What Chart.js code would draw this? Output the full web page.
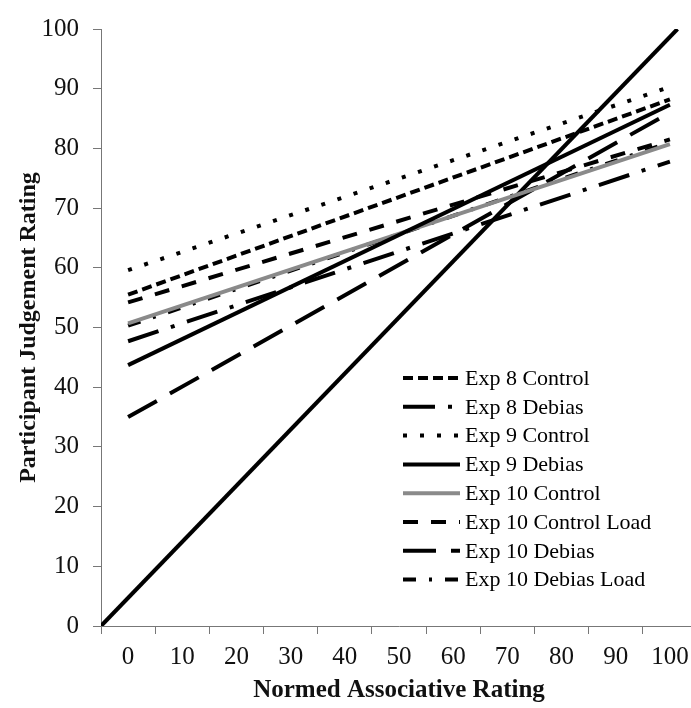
<!DOCTYPE html>
<html>
<head>
<meta charset="utf-8">
<title>Participant Judgement Rating vs Normed Associative Rating</title>
<script src="https://cdn.jsdelivr.net/npm/chart.js@4.4.1/dist/chart.umd.min.js"></script>
<style>
  html, body { margin: 0; padding: 0; background: #fff; overflow: hidden; }
  #wrap { position: relative; width: 700px; height: 708px; }
</style>
</head>
<body>
<div id="wrap"><canvas id="plot"></canvas></div>
<script>
const seriesNames = ['Exp 8 Control', 'Exp 8 Debias', 'Exp 9 Control', 'Exp 9 Debias',
    'Exp 10 Control', 'Exp 10 Control Load', 'Exp 10 Debias', 'Exp 10 Debias Load'];
const fitX = [0, 100];
const valuesAt0 = [55.5, 47.7, 59.6, 43.7, 50.7, 54.2, 35.0, 50.3];
const valuesAt100 = [88.2, 77.8, 90.3, 87.3, 80.7, 81.5, 86.0, 81.0];

// identity reference line
const diagonalX = [-5, 101.4];
const diagonalY = [0, 100];

const xTickValues = [0, 10, 20, 30, 40, 50, 60, 70, 80, 90, 100];
const yTickValues = [0, 10, 20, 30, 40, 50, 60, 70, 80, 90, 100];

const serif = '"Liberation Serif", "Times New Roman", serif';

// line styles, same order as seriesNames
const lineColors = ['#000', '#000', '#000', '#000', '#8a8a8a', '#000', '#000', '#000'];
const lineDashes = [[10, 5], [32, 13, 4, 13], [4, 13], [], [], [15, 13], [33, 15], [13, 13, 3, 13]];

const datasets = seriesNames.map((name, i) => ({
    label: name,
    inLegend: true,
    data: fitX.map((x, j) => ({ x: x, y: j === 0 ? valuesAt0[i] : valuesAt100[i] })),
    borderColor: lineColors[i],
    borderWidth: 4,
    borderDash: lineDashes[i],
    pointRadius: 0,
    fill: false
}));

datasets.push({
    label: 'Identity',
    inLegend: false,
    data: diagonalX.map((x, j) => ({ x: x, y: diagonalY[j] })),
    borderColor: '#000',
    borderWidth: 4,
    pointRadius: 0,
    fill: false
});

// legend drawn inside the plot, lower right
const lineLegend = {
    id: 'lineLegend',
    afterDraw(chart) {
        const ctx = chart.ctx;
        const items = chart.data.datasets.filter(ds => ds.inLegend);
        ctx.save();
        ctx.font = '22px ' + serif;
        ctx.textBaseline = 'middle';
        ctx.fillStyle = '#000';
        items.forEach((ds, i) => {
            const y = 378 + i * 28.8;
            ctx.beginPath();
            ctx.setLineDash(ds.borderDash || []);
            ctx.strokeStyle = ds.borderColor;
            ctx.lineWidth = ds.borderWidth;
            ctx.moveTo(403, y);
            ctx.lineTo(460, y);
            ctx.stroke();
            ctx.setLineDash([]);
            ctx.fillText(ds.label, 465, y + 1);
        });
        ctx.restore();
    }
};

new Chart(document.getElementById('plot'), {
    type: 'line',
    data: { datasets: datasets },
    plugins: [lineLegend],
    options: {
        responsive: true,
        maintainAspectRatio: false,
        animation: false,
        layout: { padding: { top: 17, right: 3, left: 0, bottom: 0 } },
        plugins: {
            legend: { display: false },
            tooltip: { enabled: false }
        },
        scales: {
            x: {
                type: 'linear',
                min: -5,
                max: 105,
                afterBuildTicks: (scale) => {
                    scale.ticks = xTickValues.map(v => ({ value: v }));
                },
                afterFit: (scale) => { scale.height = 82; },
                grid: { offset: true, drawOnChartArea: false, drawTicks: true, tickLength: 8, color: '#777', lineWidth: 1 },
                border: { color: '#777', width: 1 },
                ticks: { color: '#111', font: { family: serif, size: 25 }, padding: 8, maxRotation: 0, autoSkip: false },
                title: {
                    display: true,
                    text: 'Normed Associative Rating',
                    color: '#111',
                    font: { family: serif, size: 25, weight: 'bold' },
                    padding: { top: 0, bottom: 2 }
                }
            },
            y: {
                min: 0,
                max: 100,
                afterBuildTicks: (scale) => {
                    scale.ticks = yTickValues.map(v => ({ value: v }));
                },
                afterFit: (scale) => { scale.width = 101; },
                grid: { drawOnChartArea: false, drawTicks: true, tickLength: 8, color: '#777', lineWidth: 1 },
                border: { color: '#777', width: 1 },
                ticks: { color: '#111', font: { family: serif, size: 25 }, padding: 14 },
                title: {
                    display: true,
                    text: 'Participant Judgement Rating',
                    color: '#111',
                    font: { family: serif, size: 24, weight: 'bold' },
                    padding: { top: 14, bottom: 0 }
                }
            }
        }
    }
});
</script>
</body>
</html>
